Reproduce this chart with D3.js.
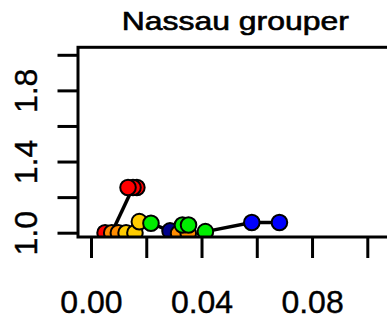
<!DOCTYPE html>
<html>
<head>
<meta charset="utf-8">
<script src="https://cdn.jsdelivr.net/npm/d3@7"></script>
<style>
  html, body { margin: 0; padding: 0; background: #ffffff; }
  svg { display: block; }
</style>
</head>
<body>
<script>
// ---- data ----
const title = "Nassau grouper";
const xTickValues = [0, 0.02, 0.04, 0.06, 0.08, 0.10];
const xTickLabels = ["0.00", "", "0.04", "", "0.08", ""];
const yTickValues = [1.0, 1.2, 1.4, 1.6, 1.8, 2.0];
const yTickLabels = ["1.0", "", "1.4", "", "1.8", ""];

// points (drawing order matters: later drawn on top)
const pointX = [0.0166, 0.0152, 0.0134, 0.0051, 0.0075, 0.0099, 0.0127, 0.0159, 0.0175, 0.0217, 0.0286, 0.0317, 0.0352, 0.0331, 0.0353, 0.0414, 0.0582, 0.0682];
const pointY = [1.254, 1.254, 1.254, 1.0, 1.0, 1.0, 1.0, 1.0, 1.062, 1.053, 1.01, 0.997, 0.997, 1.043, 1.043, 1.006, 1.057, 1.057];
const pointColor = ["red", "red", "red", "red", "orange", "orange", "gold", "gold", "gold", "green", "navy", "orange", "orange", "green", "green", "green", "blue", "blue"];

// line segments between points (indices into the arrays above)
const linkFrom = [1, 9, 15, 16];
const linkTo   = [4, 10, 16, 17];

const palette = {
  red: "#ff0000", orange: "#ff8c00", gold: "#ffcc00",
  green: "#00ee00", navy: "#00008b", blue: "#0000ff"
};

// ---- layout ----
const W = 387, H = 324;
const box = { left: 78, top: 47.3, bottom: 237 };

const x = d3.scaleLinear().domain([0, 0.1]).range([91, 367.3]);
const y = d3.scaleLinear().domain([1.0, 2.0]).range([232.7, 54.8]);

const svg = d3.select("body").append("svg")
  .attr("width", W).attr("height", H);

svg.append("defs").append("clipPath").attr("id", "plotclip")
  .append("rect")
  .attr("x", box.left).attr("y", box.top)
  .attr("width", W - box.left + 10).attr("height", box.bottom - box.top);

// title
svg.append("text")
  .attr("x", 235.3).attr("y", 29.5)
  .attr("text-anchor", "middle")
  .attr("font-family", "Liberation Sans, Arial, sans-serif")
  .attr("font-size", 25)
  .attr("textLength", 227)
  .attr("lengthAdjust", "spacingAndGlyphs")
  .attr("fill", "#000")
  .attr("stroke", "#000").attr("stroke-width", 0.6)
  .text(title);

// x axis
const xAxis = svg.append("g")
  .attr("transform", `translate(0,${box.bottom + 1})`)
  .call(d3.axisBottom(x).tickValues(xTickValues).tickSize(20)
    .tickFormat((d, i) => xTickLabels[i]));
xAxis.select(".domain").remove();
xAxis.selectAll(".tick line").attr("stroke", "#000").attr("stroke-width", 3);
xAxis.selectAll(".tick text")
  .attr("y", 313 - (box.bottom + 1)).attr("dy", 0)
  .attr("font-family", "Liberation Sans, Arial, sans-serif")
  .attr("font-size", 32).attr("fill", "#000")
  .attr("stroke", "#000").attr("stroke-width", 0.4);

// y axis
const yAxis = svg.append("g")
  .attr("transform", `translate(${box.left - 0.5},0)`)
  .call(d3.axisLeft(y).tickValues(yTickValues).tickSize(20)
    .tickFormat((d, i) => yTickLabels[i]));
yAxis.select(".domain").remove();
yAxis.selectAll(".tick line").attr("stroke", "#000").attr("stroke-width", 3);
yAxis.selectAll(".tick text")
  .attr("x", 0).attr("y", 0).attr("dy", 0)
  .attr("text-anchor", "middle")
  .attr("transform", `translate(${37 - (box.left - 0.5)},0) rotate(-90)`)
  .attr("font-family", "Liberation Sans, Arial, sans-serif")
  .attr("font-size", 32).attr("fill", "#000")
  .attr("stroke", "#000").attr("stroke-width", 0.4);

// plot content
const plot = svg.append("g").attr("clip-path", "url(#plotclip)");

plot.selectAll("line.link")
  .data(linkFrom.map((f, i) => [f, linkTo[i]]))
  .enter().append("line")
  .attr("class", "link")
  .attr("x1", d => x(pointX[d[0]])).attr("y1", d => y(pointY[d[0]]))
  .attr("x2", d => x(pointX[d[1]])).attr("y2", d => y(pointY[d[1]]))
  .attr("stroke", "#000").attr("stroke-width", 3.5);

plot.selectAll("circle.pt")
  .data(pointX.map((v, i) => i))
  .enter().append("circle")
  .attr("class", "pt")
  .attr("cx", i => x(pointX[i]))
  .attr("cy", i => y(pointY[i]))
  .attr("r", 7.8)
  .attr("fill", i => palette[pointColor[i]])
  .attr("stroke", "#000").attr("stroke-width", 2);

// box (right side runs past the window edge)
svg.append("rect")
  .attr("x", box.left).attr("y", box.top)
  .attr("width", W - box.left + 20).attr("height", box.bottom - box.top)
  .attr("fill", "none").attr("stroke", "#000").attr("stroke-width", 3);
</script>
</body>
</html>
